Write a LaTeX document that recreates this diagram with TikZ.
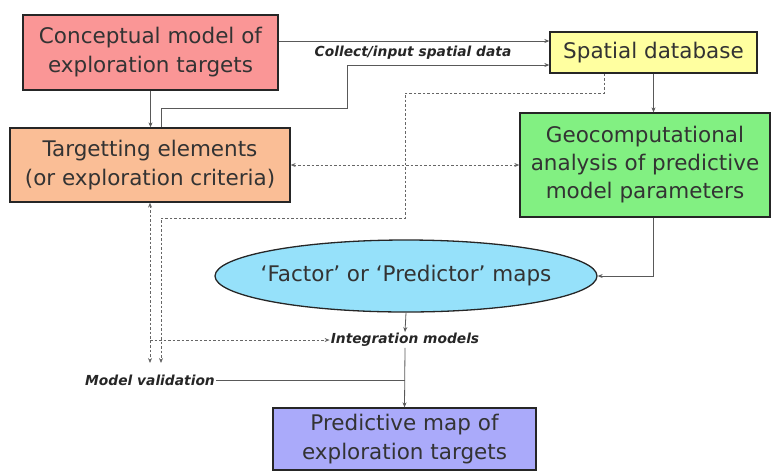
\documentclass[tikz,border=0pt]{standalone}
\usepackage{fontspec}
\setmainfont{DejaVu Sans}
\usetikzlibrary{arrows.meta, shapes.geometric}
\definecolor{conceptcolor}{RGB}{250,150,150}
\definecolor{targetcolor}{RGB}{250,190,150}
\definecolor{spatialcolor}{RGB}{255,255,160}
\definecolor{geocolor}{RGB}{130,240,130}
\definecolor{factorcolor}{RGB}{150,225,250}
\definecolor{predictcolor}{RGB}{170,170,250}
\tikzset{
    box/.style={draw=black!85, line width=1.3pt, align=center, inner sep=0pt,
        font=\fontsize{21.5}{29}\selectfont, text=black!80},
    tag/.style={font=\fontsize{13.8}{16}\selectfont\bfseries\itshape, text=black!85, inner sep=1pt},
    link/.style={draw=black!65, line width=0.8pt, -{Stealth[length=5pt,width=4pt]}},
    plain/.style={draw=black!65, line width=0.8pt},
    dots/.style={draw=black!60, line width=0.8pt, dash pattern=on 2.5pt off 2pt}
}

\begin{document}
\begin{tikzpicture}[x=1pt, y=-1pt] % one unit per pixel of the reference

    \useasboundingbox (0,0) rectangle (776,475);

    % Boxes
    \node[box, fill=conceptcolor, minimum width=255, minimum height=75] (concept) at (150.5,52.5) {Conceptual model of\\exploration targets};
    \node[box, fill=targetcolor, minimum width=280, minimum height=74] (target) at (150,165) {Targetting elements\\(or exploration criteria)};
    \node[box, fill=spatialcolor, minimum width=207, minimum height=41] (spatial) at (653.5,52.5) {Spatial database};
    \node[box, fill=geocolor, minimum width=250, minimum height=104, font=\fontsize{21.5}{28}\selectfont] (geo) at (645,165) {Geocomputational\\analysis of predictive\\model parameters};
    \node[box, ellipse, fill=factorcolor, inner xsep=-16pt, minimum width=382, minimum height=72] (factor) at (406,276) {`Factor' or `Predictor' maps};
    \node[box, fill=predictcolor, minimum width=263, minimum height=62] (predict) at (404.5,439) {Predictive map of\\exploration targets};

    % Labels
    \node[tag] (collect) at (413,53) {Collect/input spatial data};
    \node[tag] (integ) at (405,340) {Integration models};
    \node[tag] (valid) at (150,380) {Model validation};

    % Bend points
    \coordinate (up1) at (161,108);
    \coordinate (up2) at (347,65);
    \coordinate (dd1) at (604,93);
    \coordinate (dd2) at (405,218);
    \coordinate (dd3) at (161,218);
    \coordinate (vl) at (150,363);
    \coordinate (vr) at (161,363);
    \coordinate (il) at (150,340);
    \coordinate (join) at (405,380);

    % Solid connectors
    \draw[link] (concept.south) -- (target.north -| concept.south);
    \draw[link] (concept.east |- 0,41) -- (spatial.west |- 0,41);
    \draw[link] (target.north -| up1) -- (up1) -| (up2) -- (spatial.west |- up2);
    \draw[link] (spatial.south) -- (geo.north -| spatial.south);
    \draw[link] (geo.south -| spatial.south) |- (factor.east);
    \draw[link] (factor.south) -- (integ.north);
    \draw[link] (integ.south) -- (predict.north);
    \draw[plain] (valid.east) -- (join);

    % Dotted connectors
    \draw[dots, {Stealth[length=5pt,width=4pt]}-{Stealth[length=5pt,width=4pt]}] (target.east) -- (geo.west);
    \draw[dots, {Stealth[length=5pt,width=4pt]}-{Stealth[length=5pt,width=4pt]}] (target.south -| vl) -- (vl);
    \draw[dots, -{Stealth[length=5pt,width=4pt]}] (spatial.south -| dd1) -- (dd1) -| (dd2) -- (dd3) -- (vr);
    \draw[dots, -{Stealth[length=5pt,width=4pt]}] (il) -- (integ.west);

\end{tikzpicture}
\end{document}
